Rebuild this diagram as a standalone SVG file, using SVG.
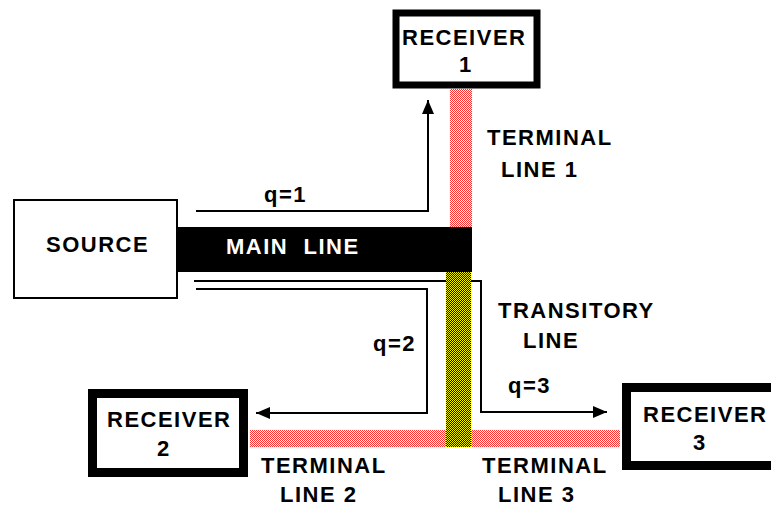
<svg xmlns="http://www.w3.org/2000/svg" width="771" height="511" viewBox="0 0 771 511">
<defs>
<pattern id="pink" patternUnits="userSpaceOnUse" width="2" height="2">
<rect width="2" height="2" fill="#ffffff"/>
<rect x="0" y="0" width="1" height="1" fill="#ff3030"/>
<rect x="1" y="1" width="1" height="1" fill="#ff3030"/>
</pattern>
<pattern id="olive" patternUnits="userSpaceOnUse" width="2" height="2">
<rect width="2" height="2" fill="#000000"/>
<rect x="0" y="0" width="1" height="1" fill="#ffff00"/>
<rect x="1" y="1" width="1" height="1" fill="#ffff00"/>
</pattern>
<marker id="ah" viewBox="0 0 14 12" refX="14" refY="6" markerWidth="14" markerHeight="12" markerUnits="userSpaceOnUse" orient="auto">
<path d="M0,0 L14,6 L0,12 Z" fill="#000"/>
</marker>
</defs>
<style>
text{font-family:"Liberation Sans",Arial,sans-serif;font-size:22px;font-weight:bold;letter-spacing:1.5px;fill:#000;white-space:pre}
.w{fill:#fff}
.box{fill:#fff;stroke:#000}
.conn{fill:none;stroke:#000;stroke-width:2}
</style>
<rect width="771" height="511" fill="#fff"/>

<g id="connectors">
<path class="conn" d="M196,211 H428 V100" marker-end="url(#ah)"/>
<path class="conn" d="M194,281 H481 V412 H607" marker-end="url(#ah)"/>
<path class="conn" d="M196,289 H427 V413 H256" marker-end="url(#ah)"/>
</g>

<g id="lines">
<rect id="terminal-line-1" x="450" y="89" width="22" height="138" fill="url(#pink)"/>
<rect id="terminal-line-23" x="250" y="430" width="370" height="17" fill="url(#pink)"/>
<rect id="transitory-line" x="446" y="272" width="25" height="175" fill="url(#olive)"/>
</g>

<g id="main-line">
<rect x="178" y="227" width="294" height="45" fill="#000"/>
<text x="226" y="254" class="w" xml:space="preserve">MAIN  LINE</text>
</g>

<g id="source">
<rect class="box" x="14" y="200" width="163" height="98" stroke-width="2"/>
<text x="46" y="252">SOURCE</text>
</g>

<g id="receiver-1">
<rect class="box" x="396" y="13" width="141" height="72" stroke-width="7"/>
<text x="402" y="45">RECEIVER</text>
<text x="459" y="72">1</text>
</g>

<g id="receiver-2">
<rect class="box" x="92.5" y="393.5" width="151" height="79" stroke-width="9"/>
<text x="107" y="427">RECEIVER</text>
<text x="157" y="456">2</text>
</g>

<g id="receiver-3">
<rect class="box" x="626.5" y="387.5" width="160" height="78" stroke-width="9"/>
<text x="643" y="422">RECEIVER</text>
<text x="693" y="450">3</text>
</g>

<g id="labels">
<text x="264" y="202">q=1</text>
<text x="373" y="351">q=2</text>
<text x="508" y="393">q=3</text>
<text x="487" y="145">TERMINAL</text>
<text x="501" y="177">LINE 1</text>
<text x="498" y="318">TRANSITORY</text>
<text x="523" y="348">LINE</text>
<text x="261" y="473">TERMINAL</text>
<text x="280" y="502">LINE 2</text>
<text x="482" y="473">TERMINAL</text>
<text x="498" y="502">LINE 3</text>
</g>
</svg>
